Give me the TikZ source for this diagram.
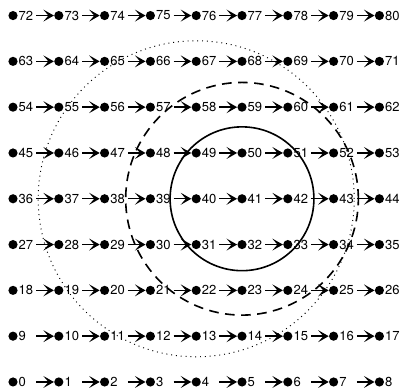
\documentclass[tikz,border=0pt]{standalone}
\usepackage{fontspec}
\setmainfont{TeX Gyre Heros}
\usepackage{tikz}
\usetikzlibrary{arrows.meta,positioning}
\definecolor{LatInk}{HTML}{000000}
\tikzset{
  latpoint/.style={
    circle,
    fill=LatInk,
    minimum size=2mm,
    inner sep=0pt
  },
  latlabel/.style={
    font=\fontsize{8.1}{9}\selectfont,
    inner sep=0.3pt,
    text=LatInk
  },
  latarrow/.style={-{Stealth[length=2.3mm,width=2.6mm,inset=1.1mm]},line width=0.9pt,draw=LatInk,shorten <=4mm},
  latring/.style={line width=1pt,draw=LatInk}
}

\begin{document}
\begin{tikzpicture}[node distance=0pt]
  \useasboundingbox (-0.284,-0.175) rectangle (8.537,8.34);
  \foreach \r in {0,...,8}{
    \foreach \c in {0,...,8}{
      \pgfmathtruncatemacro{\n}{9*\r+\c}
      \node[latpoint] (p\n) at (\c,\r) {};
      \node[latlabel,right=of p\n] (l\n) {\n};
    }
  }
  \foreach \r in {0,...,8}{
    \foreach \c in {0,...,7}{
      \pgfmathtruncatemacro{\n}{9*\r+\c}
      \pgfmathtruncatemacro{\m}{\n+1}
      \draw[latarrow] (p\n) -- (p\m);
    }
  }
  % rings round the middle
  \draw[latring] (p41) circle[radius=1.57];
  \draw[latring,dash pattern=on 6pt off 4pt] (p41) circle[radius=2.54];
  \draw[latring,line width=0.6pt,dash pattern=on 0.6pt off 2.4pt] (p40) circle[radius=3.45];
\end{tikzpicture}
\end{document}
